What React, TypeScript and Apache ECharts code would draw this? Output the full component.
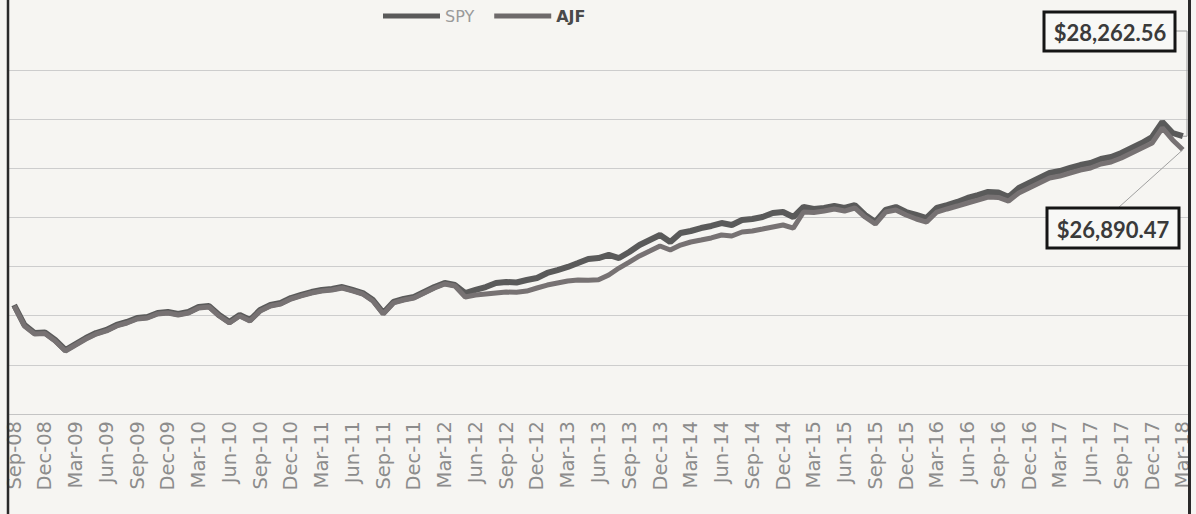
import React, { useEffect, useRef } from "react";
import * as echarts from "echarts";

const categories = [
  "Sep-08", "Oct-08", "Nov-08", "Dec-08",
  "Jan-09", "Feb-09", "Mar-09", "Apr-09", "May-09", "Jun-09", "Jul-09", "Aug-09", "Sep-09", "Oct-09", "Nov-09", "Dec-09",
  "Jan-10", "Feb-10", "Mar-10", "Apr-10", "May-10", "Jun-10", "Jul-10", "Aug-10", "Sep-10", "Oct-10", "Nov-10", "Dec-10",
  "Jan-11", "Feb-11", "Mar-11", "Apr-11", "May-11", "Jun-11", "Jul-11", "Aug-11", "Sep-11", "Oct-11", "Nov-11", "Dec-11",
  "Jan-12", "Feb-12", "Mar-12", "Apr-12", "May-12", "Jun-12", "Jul-12", "Aug-12", "Sep-12", "Oct-12", "Nov-12", "Dec-12",
  "Jan-13", "Feb-13", "Mar-13", "Apr-13", "May-13", "Jun-13", "Jul-13", "Aug-13", "Sep-13", "Oct-13", "Nov-13", "Dec-13",
  "Jan-14", "Feb-14", "Mar-14", "Apr-14", "May-14", "Jun-14", "Jul-14", "Aug-14", "Sep-14", "Oct-14", "Nov-14", "Dec-14",
  "Jan-15", "Feb-15", "Mar-15", "Apr-15", "May-15", "Jun-15", "Jul-15", "Aug-15", "Sep-15", "Oct-15", "Nov-15", "Dec-15",
  "Jan-16", "Feb-16", "Mar-16", "Apr-16", "May-16", "Jun-16", "Jul-16", "Aug-16", "Sep-16", "Oct-16", "Nov-16", "Dec-16",
  "Jan-17", "Feb-17", "Mar-17", "Apr-17", "May-17", "Jun-17", "Jul-17", "Aug-17", "Sep-17", "Oct-17", "Nov-17", "Dec-17",
  "Jan-18", "Feb-18", "Mar-18",
];

const spyValues = [
  11090, 9060, 8240, 8290, 7530, 6510, 7120, 7730, 8240, 8550,
  9060, 9360, 9770, 9870, 10280, 10380, 10180, 10380, 10890, 10990,
  10070, 9360, 10070, 9560, 10580, 11090, 11290, 11800, 12110, 12410,
  12620, 12720, 12920, 12620, 12310, 11600, 10280, 11400, 11700, 11900,
  12410, 12920, 13330, 13120, 12310, 12620, 12920, 13330, 13430, 13380,
  13630, 13840, 14350, 14650, 14960, 15360, 15770, 15870, 16180, 15870,
  16480, 17190, 17700, 18210, 17500, 18420, 18620, 18920, 19130, 19430,
  19230, 19740, 19840, 20040, 20450, 20550, 20040, 21060, 20860, 20960,
  21160, 20960, 21260, 20250, 19530, 20760, 21060, 20550, 20250, 19940,
  20960, 21260, 21570, 21980, 22280, 22590, 22540, 22080, 22990, 23500,
  24010, 24520, 24720, 25030, 25330, 25540, 25940, 26150, 26550, 27060,
  27570, 28180, 29710, 28590, 28262.56,
];

const ajfValues = [
  10990, 8960, 8140, 8190, 7430, 6410, 7020, 7630, 8140, 8450,
  8960, 9260, 9670, 9770, 10180, 10280, 10080, 10280, 10790, 10890,
  9970, 9260, 9970, 9460, 10480, 10990, 11190, 11700, 12010, 12310,
  12520, 12620, 12820, 12520, 12210, 11500, 10180, 11300, 11600, 11800,
  12310, 12820, 13230, 13020, 11900, 12110, 12210, 12310, 12410, 12380,
  12510, 12820, 13120, 13330, 13530, 13630, 13600, 13650, 14140, 14850,
  15460, 16080, 16580, 17090, 16690, 17190, 17500, 17700, 17910, 18210,
  18110, 18520, 18620, 18820, 19030, 19230, 18920, 20550, 20500, 20650,
  20860, 20650, 20960, 20040, 19330, 20550, 20760, 20250, 19840, 19530,
  20550, 20860, 21160, 21470, 21770, 22080, 22030, 21670, 22490, 22990,
  23500, 24010, 24210, 24520, 24820, 25030, 25440, 25640, 26050, 26550,
  27060, 27570, 29100, 27880, 26890.47,
];

const seriesNames = ["SPY", "AJF"];
const endLabels = ["$28,262.56", "$26,890.47"];
const yMin = 0;
const yMax = 35000;
const yInterval = 5000;

export default function App() {
  const ref = useRef<HTMLDivElement>(null);

  useEffect(() => {
    const chart = echarts.init(ref.current!, null, { renderer: "svg" });
    const labelFont = "'DejaVu Sans', sans-serif";
    chart.setOption({
      animation: false,
      backgroundColor: "#f6f5f2",
      grid: { left: 9, right: 8, top: 70, bottom: 100, containLabel: false },
      legend: {
        data: [
          { name: seriesNames[0], textStyle: { color: "#9a9a9a" } },
          { name: seriesNames[1], textStyle: { color: "#4a4a4a", fontWeight: "bold" } },
        ],
        left: 383,
        top: 8,
        padding: 0,
        icon: "rect",
        itemWidth: 57,
        itemHeight: 5,
        itemGap: 20,
        textStyle: { fontFamily: labelFont, fontSize: 16 },
      },
      xAxis: {
        type: "category",
        data: categories,
        boundaryGap: true,
        axisLine: { show: true, lineStyle: { color: "#c4c4c4", width: 1 } },
        axisTick: { show: false },
        axisLabel: {
          interval: 2,
          rotate: 90,
          margin: 7,
          color: "#8c8c8c",
          fontFamily: labelFont,
          fontSize: 19.5,
        },
        splitLine: { show: false },
      },
      yAxis: {
        type: "value",
        min: yMin,
        max: yMax,
        interval: yInterval,
        axisLabel: { show: false },
        axisLine: { show: false },
        axisTick: { show: false },
        splitLine: { show: true, lineStyle: { color: "#cdcdcd", width: 1.2 } },
      },
      series: [
        {
          name: seriesNames[0],
          type: "line",
          data: spyValues,
          showSymbol: false,
          symbol: "none",
          lineStyle: { color: "#5a5a5a", width: 6 },
          itemStyle: { color: "#5a5a5a" },
          z: 2,
        },
        {
          name: seriesNames[1],
          type: "line",
          data: ajfValues,
          showSymbol: false,
          symbol: "none",
          lineStyle: { color: "#777273", width: 5 },
          itemStyle: { color: "#6e6a6b" },
          z: 3,
        },
      ],
    });

    const last = categories.length - 1;
    const pSpy = chart.convertToPixel({ seriesIndex: 0 }, [last, spyValues[last]]) as number[];
    const pAjf = chart.convertToPixel({ seriesIndex: 1 }, [last, ajfValues[last]]) as number[];
    const boxFont = "bold 22px Lato, 'Open Sans', sans-serif";

    chart.setOption({
      graphic: [
        { type: "line", shape: { x1: 8, y1: 0, x2: 8, y2: 514 }, style: { stroke: "#2a2a2a", lineWidth: 2.5 }, z: 100 },
        { type: "line", shape: { x1: 1189.5, y1: 0, x2: 1189.5, y2: 514 }, style: { stroke: "#2a2a2a", lineWidth: 3 }, z: 100 },
        {
          type: "polyline",
          shape: { points: [[1175, 31], [1187, 31], [1187, pSpy[1]], [pSpy[0], pSpy[1]]] },
          style: { stroke: "#9a9a9a", lineWidth: 1, fill: null },
          z: 90,
        },
        {
          type: "line",
          shape: { x1: 1118, y1: 208, x2: pAjf[0], y2: pAjf[1] },
          style: { stroke: "#a0a0a0", lineWidth: 1 },
          z: 90,
        },
        {
          type: "rect",
          shape: { x: 1044, y: 12, width: 131, height: 39 },
          style: { fill: "#f8f8f6", stroke: "#151515", lineWidth: 3 },
          z: 101,
        },
        {
          type: "text",
          x: 1110,
          y: 32,
          style: {
            text: endLabels[0],
            fill: "#3a3a3a",
            font: boxFont,
            align: "center",
            verticalAlign: "middle",
            textAlign: "center",
            textVerticalAlign: "middle",
          },
          z: 102,
        },
        {
          type: "rect",
          shape: { x: 1047, y: 208, width: 132, height: 40 },
          style: { fill: "#f8f8f6", stroke: "#151515", lineWidth: 3 },
          z: 101,
        },
        {
          type: "text",
          x: 1113,
          y: 229,
          style: {
            text: endLabels[1],
            fill: "#3a3a3a",
            font: boxFont,
            align: "center",
            verticalAlign: "middle",
            textAlign: "center",
            textVerticalAlign: "middle",
          },
          z: 102,
        },
      ],
    });

    return () => chart.dispose();
  }, []);

  return (
    <div
      ref={ref}
      style={{ position: "absolute", left: 0, top: 0, width: 1196, height: 514 }}
    />
  );
}
